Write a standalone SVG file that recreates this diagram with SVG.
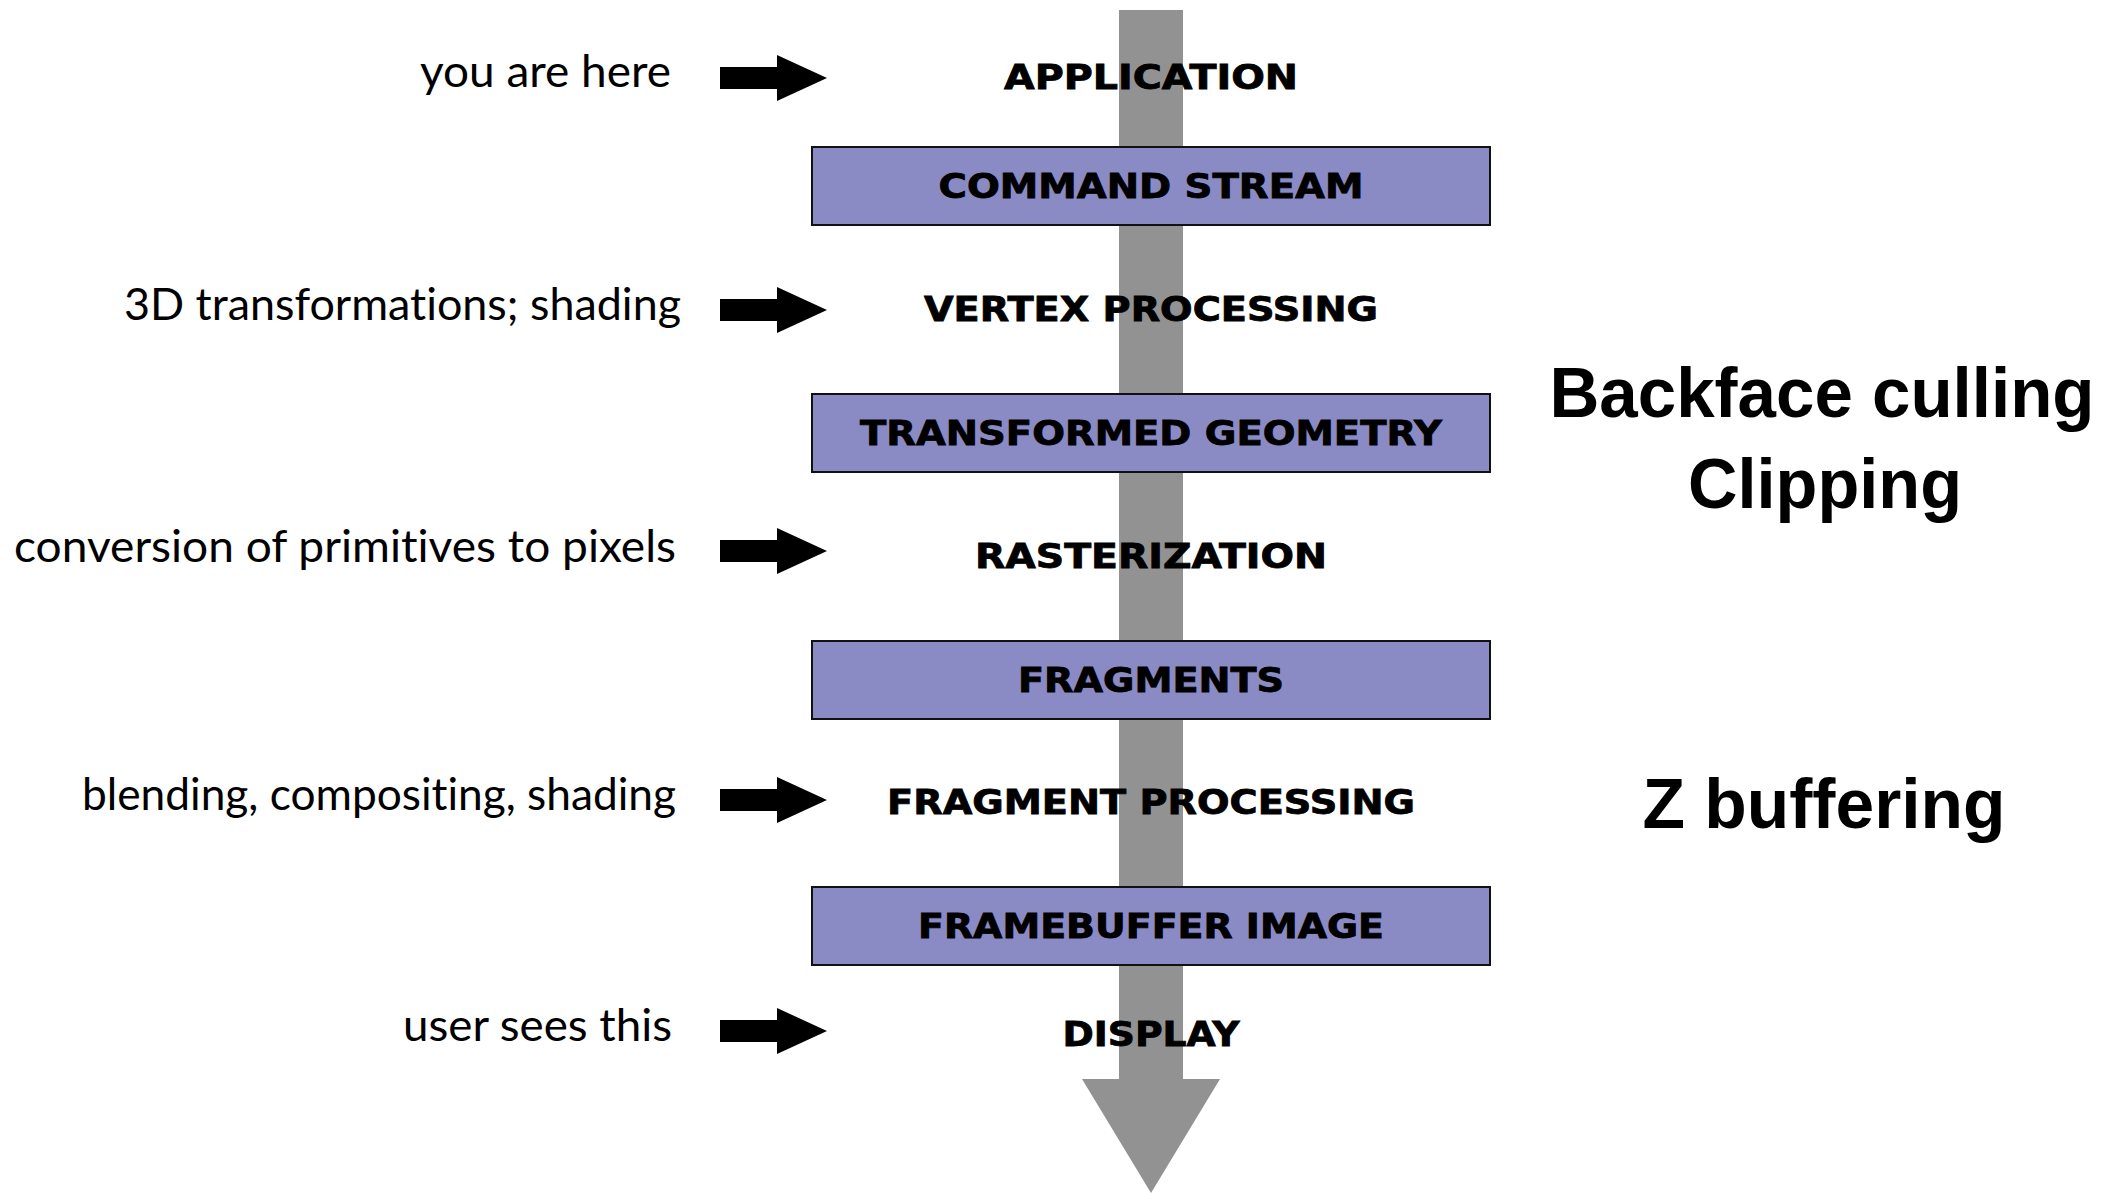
<svg xmlns="http://www.w3.org/2000/svg" width="2107" height="1193" viewBox="0 0 2107 1193">
  <style>
    .stage { font-family: "DejaVu Sans", "Liberation Sans", sans-serif; font-weight: bold; font-size: 33px; fill: #000; stroke: #000; stroke-width: 0.8; text-anchor: middle; }
    .box { fill: #8a8bc4; stroke: #111; stroke-width: 2; }
    .note { font-family: Lato, "Open Sans", sans-serif; font-size: 44px; fill: #000; text-anchor: end; font-variant-ligatures: none; font-feature-settings: "liga" 0, "dlig" 0; }
    .side { font-family: "Liberation Sans", Arial, sans-serif; font-weight: bold; font-size: 71px; fill: #000; text-anchor: middle; }
    .ptr { fill: #000; }
  </style>
  <defs>
    <path id="pointer" d="M0,-11 H57 V-23 L107,0 L57,23 V11 H0 Z"/>
  </defs>
  <rect width="2107" height="1193" fill="#fff"/>

  <g id="connectors">
    <path id="pipeline-arrow" d="M1119,10 H1183 V1079 H1220 L1151,1193 L1082,1079 H1119 Z" fill="#929292"/>
  </g>

  <g id="node-application"><text class="stage" x="1151" y="89" textLength="294" lengthAdjust="spacingAndGlyphs">APPLICATION</text></g>
  <g id="node-command-stream"><rect class="box" x="812" y="147" width="678" height="78"/><text class="stage" x="1151" y="198" textLength="425" lengthAdjust="spacingAndGlyphs">COMMAND STREAM</text></g>
  <g id="node-vertex-processing"><text class="stage" x="1151" y="321" textLength="454" lengthAdjust="spacingAndGlyphs">VERTEX PROCESSING</text></g>
  <g id="node-transformed-geometry"><rect class="box" x="812" y="394" width="678" height="78"/><text class="stage" x="1151" y="445" textLength="582" lengthAdjust="spacingAndGlyphs">TRANSFORMED GEOMETRY</text></g>
  <g id="node-rasterization"><text class="stage" x="1151" y="568" textLength="352" lengthAdjust="spacingAndGlyphs">RASTERIZATION</text></g>
  <g id="node-fragments"><rect class="box" x="812" y="641" width="678" height="78"/><text class="stage" x="1151" y="692" textLength="266" lengthAdjust="spacingAndGlyphs">FRAGMENTS</text></g>
  <g id="node-fragment-processing"><text class="stage" x="1151" y="814" textLength="528" lengthAdjust="spacingAndGlyphs">FRAGMENT PROCESSING</text></g>
  <g id="node-framebuffer-image"><rect class="box" x="812" y="887" width="678" height="78"/><text class="stage" x="1151" y="938" textLength="466" lengthAdjust="spacingAndGlyphs">FRAMEBUFFER IMAGE</text></g>
  <g id="node-display"><text class="stage" x="1151" y="1046" textLength="177" lengthAdjust="spacingAndGlyphs">DISPLAY</text></g>

  <g id="note-you-are-here">
    <text class="note" x="671" y="87" textLength="251" lengthAdjust="spacingAndGlyphs">you are here</text>
    <use href="#pointer" class="ptr" x="720" y="78"/>
  </g>
  <g id="note-3d-transformations">
    <text class="note" x="681" y="320" textLength="557" lengthAdjust="spacingAndGlyphs">3D transformations; shading</text>
    <use href="#pointer" class="ptr" x="720" y="310"/>
  </g>
  <g id="note-conversion">
    <text class="note" x="676" y="562" textLength="662" lengthAdjust="spacingAndGlyphs">conversion of primitives to pixels</text>
    <use href="#pointer" class="ptr" x="720" y="551"/>
  </g>
  <g id="note-blending">
    <text class="note" x="676" y="810" textLength="594" lengthAdjust="spacingAndGlyphs">blending, compositing, shading</text>
    <use href="#pointer" class="ptr" x="720" y="800"/>
  </g>
  <g id="note-user-sees">
    <text class="note" x="672" y="1041" textLength="269" lengthAdjust="spacingAndGlyphs">user sees this</text>
    <use href="#pointer" class="ptr" x="720" y="1031"/>
  </g>

  <g id="side-notes">
    <text class="side" x="1822" y="417" textLength="545" lengthAdjust="spacingAndGlyphs">Backface culling</text>
    <text class="side" x="1825" y="508" textLength="274" lengthAdjust="spacingAndGlyphs">Clipping</text>
    <text class="side" x="1824" y="828" textLength="363" lengthAdjust="spacingAndGlyphs">Z buffering</text>
  </g>
</svg>
